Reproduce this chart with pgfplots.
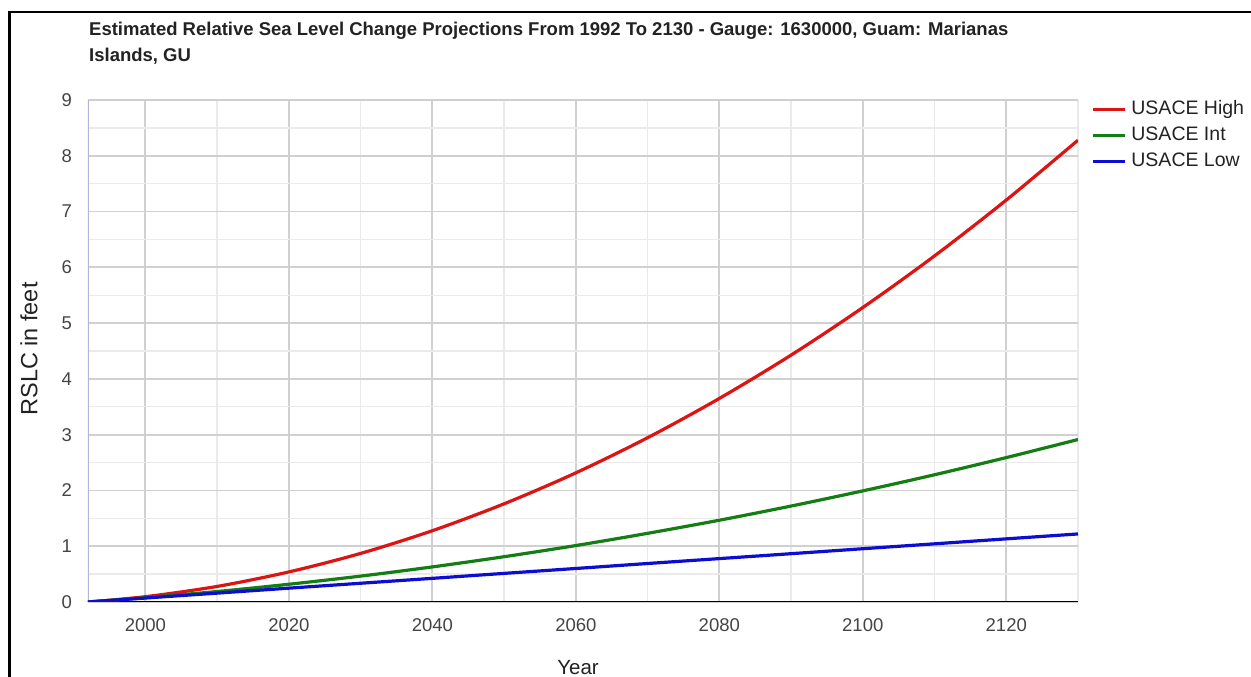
\documentclass[border=0pt]{standalone}
\usepackage{fontspec}
\setmainfont{Liberation Sans}
\usepackage{pgfplots}
\pgfplotsset{compat=1.18}

\definecolor{hiC}{RGB}{220,20,20}
\definecolor{intC}{RGB}{20,125,20}
\definecolor{lowC}{RGB}{12,12,210}
\definecolor{gridmaj}{RGB}{208,208,208}
\definecolor{gridmin}{RGB}{234,234,234}
\definecolor{leftC}{RGB}{180,180,218}
\definecolor{tickC}{RGB}{68,68,68}
\definecolor{textC}{RGB}{34,34,34}

\newcommand{\fs}[1]{\fontsize{#1}{#1}\selectfont}

% RSLC in feet, every 10 years
\pgfplotstableread{
year  high   int    low
1992  0.000  0.000  0.000
2000  0.095  0.077  0.071
2010  0.279  0.188  0.159
2020  0.539  0.318  0.248
2030  0.871  0.464  0.336
2040  1.278  0.629  0.424
2050  1.760  0.812  0.513
2060  2.315  1.012  0.601
2070  2.945  1.231  0.690
2080  3.649  1.466  0.778
2090  4.426  1.720  0.866
2100  5.279  1.992  0.955
2110  6.205  2.281  1.043
2120  7.206  2.589  1.132
2130  8.280  2.913  1.220
}\rslc

\begin{document}
\begin{tikzpicture}
\begin{axis}[
    at={(0pt,0pt)}, anchor=south west,
    scale only axis, width=990pt, height=502pt,
    xmin=1992, xmax=2130, ymin=0, ymax=9,
    xtick={2000,2020,...,2120}, ytick={0,1,...,9},
    minor xtick={2010,2030,...,2130},
    minor ytick={0.5,1.5,...,8.5},
    grid=both,
    major grid style={color=gridmaj, line width=1.8pt},
    minor grid style={color=gridmin, line width=1.4pt},
    major tick length=0pt, minor tick length=0pt,
    axis line style={draw=none},
    /pgf/number format/assume math mode=true,
    /pgf/number format/1000 sep={},
    tick label style={font=\fs{18.5}, text=tickC, inner sep=0pt},
    xticklabel style={anchor=north, yshift=-16pt},
    yticklabel style={anchor=east, xshift=-16pt},
    legend style={at={(1,1)}, anchor=north west, xshift=13pt, yshift=0pt,
        draw=none, fill=none, inner sep=0pt, font=\fs{19.5}, text=textC,
        row sep=7.5pt,
        nodes={inner sep=0pt, text height=14.5pt, text depth=4pt},
        /tikz/every odd column/.append style={column sep=5pt}},
    legend cell align=left,
    legend image code/.code={\draw[#1] (0pt,0pt) -- (32pt,0pt);},
]
\draw[color=leftC, line width=2pt] (axis cs:1992,0) -- (axis cs:1992,9);
\draw[black, line width=2pt] (axis cs:1992,0) -- (axis cs:2130,0);
\addplot[hiC, line width=3.2pt, smooth] table[x=year, y=high] {\rslc};
\addlegendentry{USACE High}
\addplot[intC, line width=3.2pt, smooth] table[x=year, y=int] {\rslc};
\addlegendentry{USACE Int}
\addplot[lowC, line width=3.2pt, smooth] table[x=year, y=low] {\rslc};
\addlegendentry{USACE Low}
\end{axis}

\node[anchor=base west, inner sep=0pt, font=\bfseries\fs{18.5}, text=textC]
    at (1pt,566pt) {Estimated Relative Sea Level Change Projections From 1992 To 2130 - Gauge: 1630000, Guam: Marianas};
\node[anchor=base west, inner sep=0pt, font=\bfseries\fs{18.5}, text=textC]
    at (1pt,540pt) {Islands, GU};
\node[anchor=base, inner sep=0pt, font=\fs{20.5}, text=textC] at (490pt,-73pt) {Year};
\node[rotate=90, anchor=base, inner sep=0pt, font=\fs{23.5}, text=textC] at (-50.5pt,253pt) {RSLC in feet};

\draw[black, line width=2.5pt] (-78.7pt,-90pt) -- (-78.7pt,590pt) -- (1180pt,590pt);

\pgfresetboundingbox
\path[use as bounding box] (-88pt,-75pt) rectangle (1163pt,602pt);
\end{tikzpicture}
\end{document}
